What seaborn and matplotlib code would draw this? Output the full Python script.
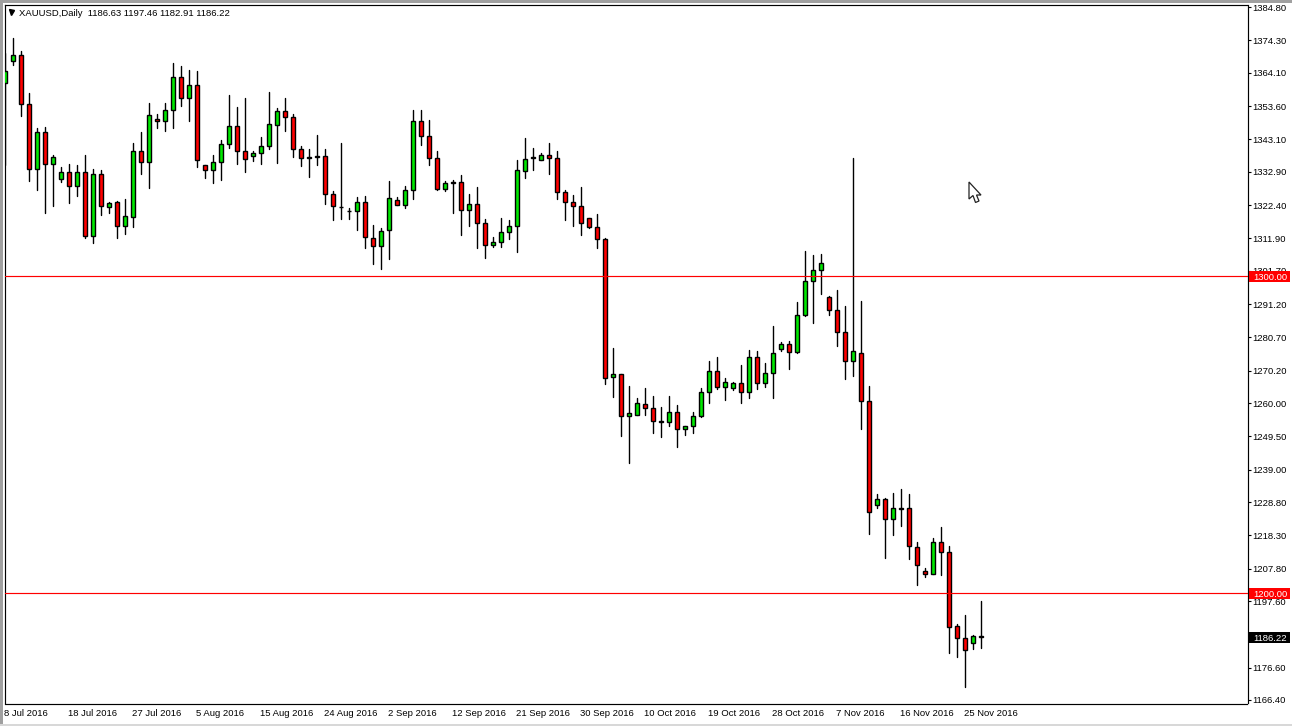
import numpy as np
import pandas as pd
import seaborn as sns
import matplotlib.pyplot as plt
from matplotlib.patches import Polygon, Rectangle
from matplotlib.transforms import ScaledTranslation, blended_transform_factory

# candles, one entry per trading day
opens = [1360.7, 1367.9, 1369.6, 1354.1, 1333.6, 1345.3, 1335.2, 1330.7, 1332.7, 1328.5,
         1332.7, 1312.7, 1332.1, 1321.7, 1323.2, 1315.9, 1318.7, 1339.3, 1335.8, 1349.4,
         1348.8, 1352.5, 1362.6, 1356.0, 1360.1, 1334.9, 1333.3, 1335.8, 1341.5, 1347.2,
         1339.3, 1337.7, 1338.7, 1340.9, 1347.5, 1351.9, 1350.0, 1339.9, 1337.4, 1337.7,
         1337.7, 1325.8, 1321.9, 1320.4, 1320.4, 1323.5, 1311.9, 1309.4, 1314.4, 1323.9,
         1322.3, 1327.0, 1348.8, 1344.0, 1337.1, 1327.5, 1329.5, 1329.6, 1320.7, 1322.6,
         1316.6, 1309.7, 1310.7, 1313.8, 1315.7, 1333.0, 1337.4, 1336.5, 1338.1, 1337.1,
         1326.4, 1323.2, 1322.0, 1318.2, 1315.4, 1311.6, 1268.1, 1269.1, 1255.8, 1256.1,
         1259.6, 1258.3, 1254.2, 1253.9, 1257.1, 1251.7, 1252.9, 1255.8, 1263.4, 1270.0,
         1265.0, 1264.6, 1266.2, 1263.4, 1274.4, 1266.2, 1269.4, 1276.9, 1278.5, 1276.0,
         1287.7, 1298.4, 1301.8, 1293.3, 1289.2, 1282.3, 1273.1, 1275.9, 1260.5, 1227.7,
         1229.6, 1223.3, 1226.8, 1226.8, 1214.5, 1207.2, 1206.0, 1216.1, 1212.9, 1189.6,
         1185.8, 1184.5, 1186.63]
closes = [1364.6, 1369.6, 1354.1, 1333.6, 1345.3, 1335.2, 1337.4, 1332.7, 1328.5, 1332.7,
          1312.7, 1332.1, 1322.0, 1322.9, 1315.9, 1318.8, 1339.3, 1335.8, 1350.7, 1348.8,
          1352.5, 1362.6, 1356.0, 1360.1, 1336.5, 1333.3, 1335.8, 1341.5, 1347.2, 1339.3,
          1336.8, 1338.7, 1340.9, 1347.8, 1351.9, 1350.0, 1339.9, 1337.1, 1337.1, 1337.4,
          1325.8, 1322.0, 1321.7, 1320.4, 1323.5, 1312.2, 1309.4, 1314.1, 1324.5, 1322.3,
          1327.0, 1348.8, 1344.0, 1337.1, 1327.5, 1329.2, 1329.2, 1320.7, 1322.6, 1316.6,
          1309.7, 1310.7, 1313.8, 1315.7, 1333.3, 1336.8, 1337.1, 1338.1, 1337.1, 1326.4,
          1323.2, 1322.0, 1316.6, 1315.4, 1311.6, 1267.8, 1269.1, 1255.8, 1256.8, 1259.9,
          1258.3, 1254.2, 1253.9, 1257.1, 1251.7, 1252.9, 1255.8, 1263.4, 1270.0, 1265.0,
          1266.5, 1266.2, 1263.4, 1274.4, 1266.2, 1269.4, 1275.7, 1278.5, 1276.0, 1287.7,
          1298.4, 1301.8, 1304.0, 1289.2, 1282.3, 1273.2, 1276.3, 1260.5, 1225.5, 1229.6,
          1223.3, 1226.8, 1226.5, 1214.8, 1208.8, 1206.0, 1216.1, 1212.9, 1189.3, 1185.8,
          1182.3, 1186.7, 1186.22]
highs = [1370.2, 1375.0, 1370.9, 1357.6, 1346.6, 1347.0, 1338.2, 1334.3, 1335.3, 1335.0,
         1338.2, 1333.7, 1333.4, 1323.4, 1323.7, 1324.3, 1342.1, 1345.4, 1354.7, 1351.0,
         1354.7, 1367.0, 1366.2, 1364.9, 1364.6, 1335.0, 1338.2, 1342.9, 1357.0, 1353.3,
         1356.1, 1339.4, 1343.8, 1358.0, 1352.9, 1356.1, 1351.0, 1341.0, 1339.9, 1344.5,
         1340.0, 1326.8, 1342.0, 1321.5, 1324.8, 1325.2, 1316.1, 1315.0, 1330.0, 1324.8,
         1328.3, 1352.3, 1352.3, 1349.2, 1339.3, 1329.9, 1330.3, 1331.8, 1325.9, 1328.0,
         1317.9, 1312.3, 1318.3, 1317.6, 1336.6, 1343.5, 1340.4, 1338.7, 1341.9, 1339.3,
         1327.0, 1325.5, 1328.0, 1318.2, 1319.5, 1312.0, 1277.2, 1269.1, 1265.3, 1261.5,
         1264.6, 1262.1, 1258.7, 1262.1, 1259.3, 1252.9, 1257.1, 1264.6, 1273.2, 1274.4,
         1267.8, 1266.5, 1271.9, 1276.6, 1276.3, 1272.5, 1284.2, 1279.1, 1279.5, 1291.8,
         1307.8, 1306.7, 1306.9, 1293.6, 1295.5, 1290.6, 1337.2, 1292.1, 1265.3, 1231.3,
         1230.2, 1231.6, 1232.9, 1231.3, 1216.1, 1207.9, 1217.6, 1220.9, 1214.8, 1190.5,
         1193.2, 1186.9, 1197.46]
lows = [1335.0, 1366.5, 1350.4, 1330.0, 1327.1, 1320.0, 1322.2, 1329.7, 1323.0, 1325.2,
        1312.1, 1310.4, 1319.2, 1319.9, 1312.0, 1313.3, 1315.5, 1332.2, 1327.8, 1346.7,
        1345.8, 1346.7, 1353.6, 1348.9, 1334.4, 1330.9, 1329.3, 1330.3, 1340.4, 1335.3,
        1332.8, 1336.3, 1335.3, 1340.0, 1335.6, 1345.7, 1337.5, 1334.7, 1331.2, 1335.0,
        1322.7, 1317.7, 1318.0, 1318.0, 1314.5, 1308.9, 1303.8, 1302.2, 1305.4, 1322.3,
        1321.6, 1324.3, 1341.3, 1335.0, 1327.2, 1326.8, 1319.9, 1313.0, 1315.8, 1308.9,
        1305.7, 1309.2, 1309.2, 1311.7, 1307.6, 1330.9, 1333.4, 1336.5, 1332.2, 1324.3,
        1317.7, 1315.8, 1313.0, 1315.1, 1308.9, 1266.1, 1262.0, 1249.7, 1241.2, 1256.1,
        1256.2, 1250.4, 1249.4, 1252.9, 1246.0, 1250.0, 1250.4, 1255.5, 1260.1, 1264.5,
        1260.8, 1264.2, 1260.1, 1261.7, 1264.5, 1264.9, 1261.7, 1276.3, 1270.8, 1275.7,
        1287.3, 1285.3, 1294.5, 1287.6, 1278.1, 1267.6, 1268.5, 1251.8, 1218.8, 1226.9,
        1211.1, 1218.4, 1221.2, 1210.8, 1202.6, 1205.2, 1206.0, 1205.8, 1181.2, 1179.9,
        1170.5, 1182.4, 1182.91]

# 1187.10 sits behind the black last price tag, so it is not listed
price_ticks = [1384.80, 1374.30, 1364.10, 1353.60, 1343.10, 1332.90, 1322.40, 1311.90,
               1301.70, 1291.20, 1280.70, 1270.20, 1260.00, 1249.50, 1239.00, 1228.80,
               1218.30, 1207.80, 1197.60, 1176.60, 1166.40]
date_labels = ['8 Jul 2016', '18 Jul 2016', '27 Jul 2016', '5 Aug 2016', '15 Aug 2016',
               '24 Aug 2016', '2 Sep 2016', '12 Sep 2016', '21 Sep 2016', '30 Sep 2016',
               '10 Oct 2016', '19 Oct 2016', '28 Oct 2016', '7 Nov 2016', '16 Nov 2016',
               '25 Nov 2016']
levels = [1300.00, 1200.00]
last_price = 1186.22
header = 'XAUUSD,Daily  1186.63 1197.46 1182.91 1186.22'

W, H = 1292, 726
BAR_PX = 8
PX_PER_USD = 3.173
FONT = 6.8

sns.set_theme(style='white')
plt.rcParams['font.family'] = ['Liberation Sans', 'DejaVu Sans']
plt.rcParams['font.size'] = FONT

df = pd.DataFrame({'open': opens, 'close': closes, 'high': highs, 'low': lows})
df['bar'] = np.arange(len(df))

fig = plt.figure(figsize=(W / 100, H / 100), dpi=100, facecolor='white')
# axes box in pixels: x 4.5..1247.5, y 4.5..703.5
ax = fig.add_axes([4.5 / W, 1 - 703.5 / H, 1243 / W, 699 / H])

# wicks, one two-point line per bar
wicks = df.melt(id_vars='bar', value_vars=['high', 'low'], value_name='price')
sns.lineplot(data=wicks, x='bar', y='price', units='bar', estimator=None,
             color='black', linewidth=1.0, ax=ax, legend=False, zorder=3)

# bodies
body_colors = np.where(df['close'] > df['open'], '#00e800', '#ff0000')
ax.bar(df['bar'], df['close'] - df['open'], bottom=df['open'], width=0.55,
       color=body_colors, edgecolor='black', linewidth=1.0, zorder=4)

for lvl in levels:
    ax.axhline(lvl, color='#ff0000', linewidth=0.85, zorder=5)

ax.set_xlim(-0.5 / BAR_PX, (1247.5 - 5) / BAR_PX)
ax.set_ylim(1166.4 - 3.5 / PX_PER_USD, 1166.4 + 695.5 / PX_PER_USD)
ax.set_xlabel('')
ax.set_ylabel('')

ax.yaxis.tick_right()
ax.set_yticks(price_ticks)
ax.set_yticklabels([f'{p:.2f}' for p in price_ticks])
ax.tick_params(axis='y', length=2.5, width=0.8, pad=0.8, labelsize=FONT, colors='black')

ax.set_xticks(df['bar'].values[::8][:len(date_labels)])
ax.set_xticklabels(date_labels, ha='left')
ax.tick_params(axis='x', length=3, width=0.8, pad=1.2, labelsize=FONT, colors='black')
nudge = ScaledTranslation(-1 / 100, 0, fig.dpi_scale_trans)
for lab in ax.get_xticklabels():
    lab.set_transform(lab.get_transform() + nudge)

for sp in ax.spines.values():
    sp.set_visible(True)
    sp.set_color('black')
    sp.set_linewidth(0.85)

# price tags on the right hand scale
tag_tf = blended_transform_factory(fig.transFigure, ax.transData)
def price_tag(price, face):
    ax.add_patch(Rectangle((1249 / W, price - 5.5 / PX_PER_USD), 41 / W, 11 / PX_PER_USD,
                           transform=tag_tf, facecolor=face, edgecolor='none',
                           clip_on=False, zorder=6))
    ax.text(1253 / W, price, f'{price:.2f}', transform=tag_tf, color='white',
            ha='left', va='center_baseline', fontsize=FONT, zorder=7)

for lvl in levels:
    price_tag(lvl, '#ff0000')
price_tag(last_price, 'black')

# header with the little dropdown triangle
ax.plot([10.5 / W], [1 - 12 / H], marker='v', color='black', markersize=3.6,
        transform=fig.transFigure, clip_on=False, linestyle='none')
fig.text(19 / W, 1 - 12 / H, header, ha='left', va='center_baseline', fontsize=FONT, color='black')

# mouse pointer left on the screenshot
px = fig.transFigure
pointer = [(969, 182), (969, 199), (973, 195.5), (975.5, 202.5), (979, 201), (976.5, 195), (981, 195)]
fig.add_artist(Polygon([(x / W, 1 - y / H) for x, y in pointer], closed=True, facecolor='white',
                       edgecolor='#222222', linewidth=0.9, transform=px))

# grey window frame
fig.add_artist(Rectangle((0, 1 - 2.5 / H), 1, 2.5 / H, facecolor='#a0a0a0', edgecolor='none', transform=px))
fig.add_artist(Rectangle((0, 0), 2.5 / W, 1, facecolor='#a0a0a0', edgecolor='none', transform=px))
fig.add_artist(Rectangle((0, 0), 1, 2.5 / H, facecolor='#d8d8d8', edgecolor='none', transform=px))

fig.savefig('out.png', dpi=100)
